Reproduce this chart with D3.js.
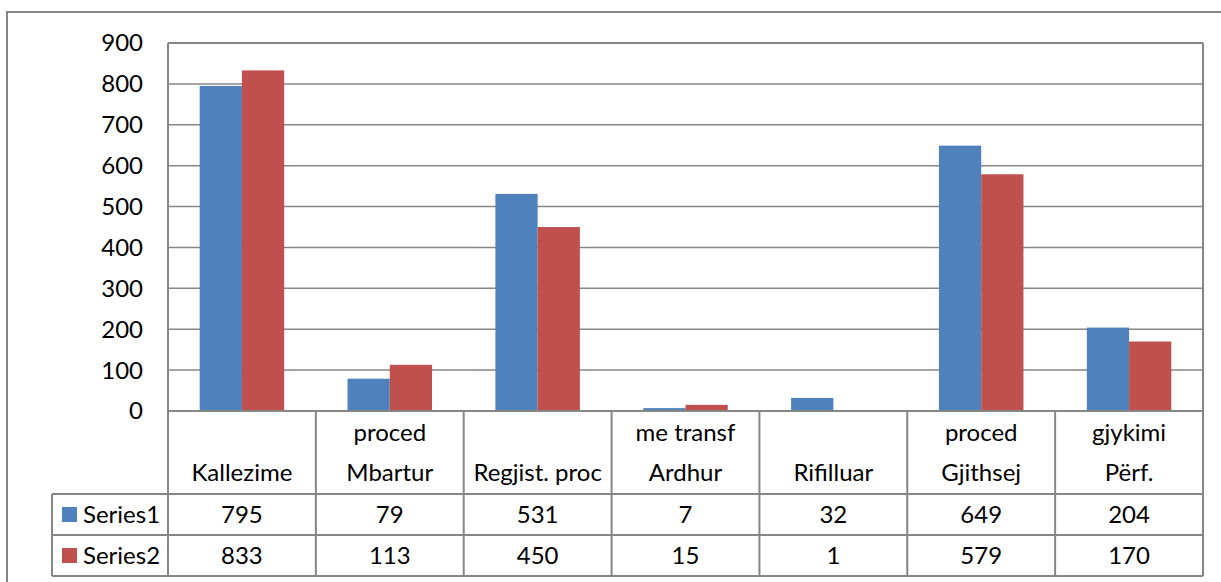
<!DOCTYPE html>
<html>
<head>
<meta charset="utf-8">
<script src="https://cdn.jsdelivr.net/npm/d3@7"></script>
<style>
  body { margin: 0; background: #fff; }
  text { font-family: Lato, "Open Sans", sans-serif; fill: #000; font-size: 24px; }
</style>
</head>
<body>
<svg id="chart" width="1221" height="582"></svg>
<script>
let categories = [
    ["", "Kallezime"],
    ["proced", "Mbartur"],
    ["", "Regjist. proc"],
    ["me transf", "Ardhur"],
    ["", "Rifilluar"],
    ["proced", "Gjithsej"],
    ["gjykimi", "Përf."]
];
let seriesNames = ["Series1", "Series2"];
let series1 = [795, 79, 531, 7, 32, 649, 204];
let series2 = [833, 113, 450, 15, 1, 579, 170];
let yTicks = [0, 100, 200, 300, 400, 500, 600, 700, 800, 900];
let seriesColors = ["#4F81BD", "#C0504D"];

let view = d3.select("#chart");
let gridColor = "#868686";

// outer frame (runs off the right and bottom edges)
view.append("rect")
    .attr("x", 7).attr("y", 12)
    .attr("width", 1240).attr("height", 600)
    .attr("fill", "none")
    .attr("stroke", gridColor)
    .attr("stroke-width", 2);

let plotLeft = 168, plotRight = 1203, plotTop = 43, plotBottom = 411;
let headerBottom = 494, row1Bottom = 535, row2Bottom = 576;
let legendLeft = 52;

let xScale = d3.scaleBand()
    .domain(d3.range(categories.length))
    .range([plotLeft, plotRight]);

let yScale = d3.scaleLinear()
    .domain([0, 900])
    .range([plotBottom, plotTop]);

// gridlines
view.append("g").selectAll("line")
    .data(yTicks.filter(d => d > 0))
    .enter()
    .append("line")
    .attr("x1", plotLeft).attr("x2", plotRight)
    .attr("y1", d => yScale(d)).attr("y2", d => yScale(d))
    .attr("stroke", gridColor)
    .attr("stroke-width", 1.5);

// y tick labels
view.append("g").selectAll("text")
    .data(yTicks)
    .enter()
    .append("text")
    .attr("x", 143)
    .attr("y", d => yScale(d))
    .attr("dy", "0.35em")
    .attr("text-anchor", "end")
    .text(d => d);

// bars: Excel-like gap width 150%
let bw = xScale.bandwidth();
let barW = bw / 3.5;
let barOff = barW * 0.75;
let allSeries = [series1, series2];
allSeries.forEach((vals, s) => {
    view.append("g").selectAll("rect")
        .data(vals)
        .enter()
        .append("rect")
        .attr("x", (d, i) => xScale(i) + barOff + s * barW)
        .attr("y", d => yScale(d))
        .attr("width", barW)
        .attr("height", d => yScale(0) - yScale(d))
        .attr("fill", seriesColors[s]);
});

// data table lines
let tbl = view.append("g")
    .attr("stroke", gridColor)
    .attr("stroke-width", 2);

// left axis line
tbl.append("line")
    .attr("x1", plotLeft).attr("x2", plotLeft)
    .attr("y1", plotTop).attr("y2", row2Bottom);
// top plot border
tbl.append("line")
    .attr("x1", plotLeft).attr("x2", plotRight)
    .attr("y1", plotTop).attr("y2", plotTop);
// right plot border
tbl.append("line")
    .attr("x1", plotRight).attr("x2", plotRight)
    .attr("y1", plotTop).attr("y2", row2Bottom);
// horizontal rows
tbl.append("line")
    .attr("x1", plotLeft).attr("x2", plotRight)
    .attr("y1", plotBottom).attr("y2", plotBottom);
[headerBottom, row1Bottom, row2Bottom].forEach(y => {
    tbl.append("line")
        .attr("x1", legendLeft).attr("x2", plotRight)
        .attr("y1", y).attr("y2", y);
});
tbl.append("line")
    .attr("x1", legendLeft).attr("x2", legendLeft)
    .attr("y1", headerBottom).attr("y2", row2Bottom);
// category separators
d3.range(1, categories.length).forEach(i => {
    tbl.append("line")
        .attr("x1", xScale(i)).attr("x2", xScale(i))
        .attr("y1", plotBottom).attr("y2", row2Bottom);
});

// category labels (two lines)
let catG = view.append("g")
    .selectAll("g")
    .data(categories)
    .enter()
    .append("g");
catG.append("text")
    .attr("x", (d, i) => xScale(i) + bw / 2)
    .attr("y", 433)
    .attr("dy", "0.35em")
    .attr("text-anchor", "middle")
    .text(d => d[0]);
catG.append("text")
    .attr("x", (d, i) => xScale(i) + bw / 2)
    .attr("y", 473)
    .attr("dy", "0.35em")
    .attr("text-anchor", "middle")
    .text(d => d[1]);

// data table values + legend
let rowMid = [(headerBottom + row1Bottom) / 2, (row1Bottom + row2Bottom) / 2];
allSeries.forEach((vals, s) => {
    view.append("g").selectAll("text")
        .data(vals)
        .enter()
        .append("text")
        .attr("x", (d, i) => xScale(i) + bw / 2)
        .attr("y", rowMid[s])
        .attr("dy", "0.35em")
        .attr("text-anchor", "middle")
        .text(d => d);

    view.append("rect")
        .attr("x", 62)
        .attr("y", rowMid[s] - 7.5)
        .attr("width", 15).attr("height", 15)
        .attr("fill", seriesColors[s]);
    view.append("text")
        .attr("x", 83)
        .attr("y", rowMid[s])
        .attr("dy", "0.35em")
        .text(seriesNames[s]);
});
</script>
</body>
</html>
